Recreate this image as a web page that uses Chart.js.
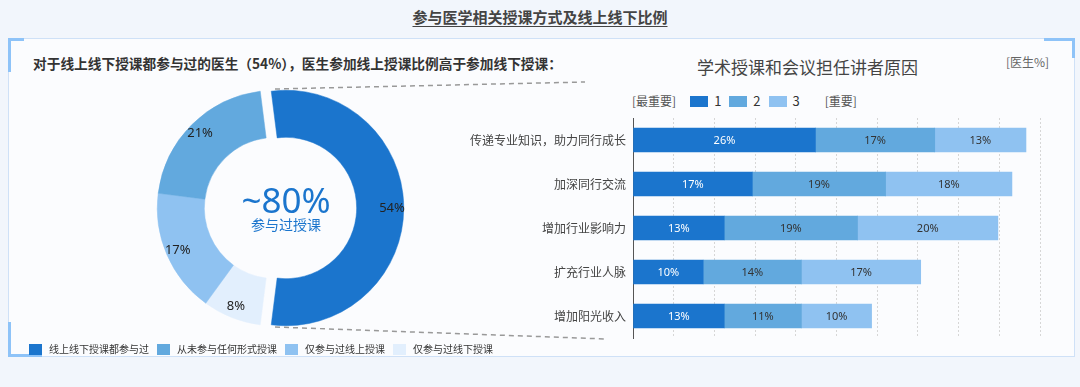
<!DOCTYPE html>
<html>
<head>
<meta charset="utf-8">
<script src="https://cdn.jsdelivr.net/npm/chart.js@4.4.0/dist/chart.umd.min.js"></script>
<style>
  html, body { margin: 0; padding: 0; }
  body {
    width: 1080px; height: 387px; position: relative; overflow: hidden;
    background: #f2f6fc;
    font-family: "Noto Sans CJK SC", "Noto Sans", sans-serif; color: #333;
  }
  .title { position: absolute; top: 6px; left: 0; width: 1080px; text-align: center;
    font-size: 15px; font-weight: bold; color: #444; line-height: 22px; }
  .title span { text-decoration: underline; text-underline-offset: 3px; }
  .frame { position: absolute; left: 8px; top: 38px; width: 1067px; height: 319px;
    box-sizing: border-box; border: 1px solid #cfe1f7; background: #fbfcfe; }
  .accent { position: absolute; background: #8ec3f8; }
  .sub { position: absolute; left: 33px; top: 53px; font-size: 13.7px; font-weight: bold;
    color: #333; line-height: 20px; white-space: nowrap; }
  .rtitle { position: absolute; left: 697px; top: 55px; font-size: 17px; color: #444;
    line-height: 24px; white-space: nowrap; }
  .unit { position: absolute; left: 1006px; top: 53px; font-size: 12px; color: #666; line-height: 18px; }
  .center1 { position: absolute; left: 216px; width: 140px; top: 179px; text-align: center;
    font-size: 35px; color: #1b75cd; line-height: 42px; font-family: "Noto Sans", sans-serif; }
  .center2 { position: absolute; left: 216px; width: 140px; top: 214px; text-align: center;
    font-size: 14px; color: #1b75cd; line-height: 20px; }
  #pieLegend { position: absolute; left: 29px; top: 341px; display: flex; gap: 8px;
    font-size: 10px; color: #333; line-height: 16px; }
  #barLegend { position: absolute; left: 632px; top: 92px; display: flex; align-items: center;
    font-size: 12px; color: #555; line-height: 18px; }
  .item { display: flex; align-items: center; white-space: nowrap; }
  .box { display: inline-block; }
  #pieWrap { position: absolute; left: 137px; top: 70px; width: 276px; height: 276px; }
  #barWrap { position: absolute; left: 460px; top: 118px; width: 582px; height: 221px; }
  svg { position: absolute; left: 0; top: 0; }
</style>
</head>
<body>
<div class="title"><span>参与医学相关授课方式及线上线下比例</span></div>
<div class="frame"></div>
<div class="accent" style="left:8px;top:38px;width:3px;height:34px"></div>
<div class="accent" style="left:8px;top:38px;width:16px;height:3px"></div>
<div class="accent" style="left:1044px;top:38px;width:31px;height:3px"></div>
<div class="accent" style="left:1072px;top:38px;width:3px;height:20px"></div>
<div class="accent" style="left:8px;top:322px;width:3px;height:35px"></div>
<div class="accent" style="left:8px;top:354px;width:34px;height:3px"></div>

<div class="sub">对于线上线下授课都参与过的医生（54%），医生参加线上授课比例高于参加线下授课：</div>
<div class="rtitle">学术授课和会议担任讲者原因</div>
<div class="unit">[医生%]</div>

<div id="pieWrap"><canvas id="pie"></canvas></div>
<div class="center1">~80%</div>
<div class="center2">参与过授课</div>
<div id="pieLegend"></div>

<div id="barLegend"></div>
<div id="barWrap"><canvas id="bar"></canvas></div>

<svg width="1080" height="387">
  <line x1="275" y1="89" x2="585" y2="82" stroke="#999" stroke-width="1.5" stroke-dasharray="5 4"/>
  <line x1="275" y1="327" x2="607" y2="339" stroke="#999" stroke-width="1.5" stroke-dasharray="5 4"/>
</svg>

<script>
// doughnut: drawn clockwise from the big slice
const pieLabels = ['线上线下授课都参与过', '仅参与过线下授课', '仅参与过线上授课', '从未参与任何形式授课'];
const pieValues = [54, 8, 17, 21];
const pieColors = ['#1b75cd', '#e2effd', '#8fc2f1', '#62a9de'];
const pieLegendOrder = [0, 3, 2, 1];
const explode = 11; // px the first slice is pulled out

// stacked bars
const reasons = ['传递专业知识，助力同行成长', '加深同行交流', '增加行业影响力', '扩充行业人脉', '增加阳光收入'];
const rankNames = ['1', '2', '3'];
const rank1 = [26, 17, 13, 10, 13];
const rank2 = [17, 19, 19, 14, 11];
const rank3 = [13, 18, 20, 17, 10];
const rankColors = ['#1b75cd', '#62a9de', '#8fc2f1'];

Chart.defaults.font.family = '"Noto Sans CJK SC", "Noto Sans", sans-serif';
Chart.defaults.animation = false;

// legends
const pl = document.getElementById('pieLegend');
pieLegendOrder.forEach(i => {
  const it = document.createElement('div');
  it.className = 'item';
  it.innerHTML = '<span class="box" style="width:13px;height:11px;margin-right:7px;background:' +
    pieColors[i] + '"></span>' + pieLabels[i];
  pl.appendChild(it);
});

const bl = document.getElementById('barLegend');
bl.innerHTML = '<span style="margin-right:14px">[最重要]</span>';
rankNames.forEach((n, i) => {
  bl.innerHTML += '<span class="box" style="width:18px;height:11px;margin-right:6px;background:' +
    rankColors[i] + '"></span><span style="font-size:13px;color:#333;margin-right:8px">' + n + '</span>';
});
bl.innerHTML += '<span style="margin-left:17px">[重要]</span>';

// pull the first slice out and write the percentages
const pieText = {
  id: 'pieText',
  afterDatasetsUpdate(chart) {
    const arc = chart.getDatasetMeta(0).data[0];
    const mid = (arc.startAngle + arc.endAngle) / 2;
    arc.x += Math.cos(mid) * explode;
    arc.y += Math.sin(mid) * explode;
  },
  afterDatasetsDraw(chart) {
    const ctx = chart.ctx;
    ctx.save();
    ctx.font = '13px "Noto Sans", sans-serif';
    ctx.fillStyle = '#222';
    ctx.textAlign = 'center';
    ctx.textBaseline = 'middle';
    chart.getDatasetMeta(0).data.forEach((arc, i) => {
      const mid = (arc.startAngle + arc.endAngle) / 2;
      const r = arc.innerRadius + (arc.outerRadius - arc.innerRadius) * 0.75;
      ctx.fillText(pieValues[i] + '%', arc.x + Math.cos(mid) * r, arc.y + Math.sin(mid) * r);
    });
    ctx.restore();
  }
};

new Chart(document.getElementById('pie'), {
  type: 'doughnut',
  data: {
    labels: pieLabels,
    datasets: [{
      data: pieValues,
      backgroundColor: pieColors,
      borderColor: pieColors,
      borderWidth: 0.5,
      hoverOffset: 0,
      clip: false
    }]
  },
  options: {
    responsive: true,
    maintainAspectRatio: false,
    cutout: '60%',
    rotation: -pieValues[0] / 100 * 180 + 90,
    layout: { padding: 20 },
    events: [],
    plugins: { legend: { display: false }, tooltip: { enabled: false } }
  },
  plugins: [pieText]
});

const barText = {
  id: 'barText',
  afterDatasetsDraw(chart) {
    const ctx = chart.ctx;
    ctx.save();
    ctx.font = '11px "Noto Sans", sans-serif';
    ctx.textAlign = 'center';
    ctx.textBaseline = 'middle';
    chart.data.datasets.forEach((ds, di) => {
      ctx.fillStyle = di === 0 ? '#fff' : '#333';
      chart.getDatasetMeta(di).data.forEach((bar, i) => {
        const p = bar.getProps(['x', 'y', 'base'], true);
        ctx.fillText(ds.data[i] + '%', (p.x + p.base) / 2, p.y + 1);
      });
    });
    ctx.restore();
  }
};

const noPad = a => {
  a.paddingTop = 0; a.paddingBottom = 0; a.paddingLeft = 0; a.paddingRight = 0;
};

new Chart(document.getElementById('bar'), {
  type: 'bar',
  data: {
    labels: reasons,
    datasets: [rank1, rank2, rank3].map((d, i) => ({
      label: rankNames[i],
      data: d,
      backgroundColor: rankColors[i],
      borderWidth: 0,
      barThickness: 24
    }))
  },
  options: {
    indexAxis: 'y',
    responsive: true,
    maintainAspectRatio: false,
    layout: { padding: { left: 0, right: 2, top: 0, bottom: 1 } },
    events: [],
    scales: {
      x: {
        stacked: true,
        min: 0,
        max: 58,
        ticks: { display: false, stepSize: 5.8 },
        grid: { color: '#d6d6d6', drawTicks: false },
        border: { display: false, dash: [2, 2] },
        afterFit: a => { a.height = 0; noPad(a); }
      },
      y: {
        stacked: true,
        ticks: { color: '#444', font: { size: 12 }, padding: 7 },
        grid: { drawOnChartArea: false, drawTicks: false },
        border: { display: true, color: '#555', width: 1 },
        afterFit: a => { a.width = 173; noPad(a); }
      }
    },
    plugins: { legend: { display: false }, tooltip: { enabled: false } }
  },
  plugins: [barText]
});
</script>
</body>
</html>
